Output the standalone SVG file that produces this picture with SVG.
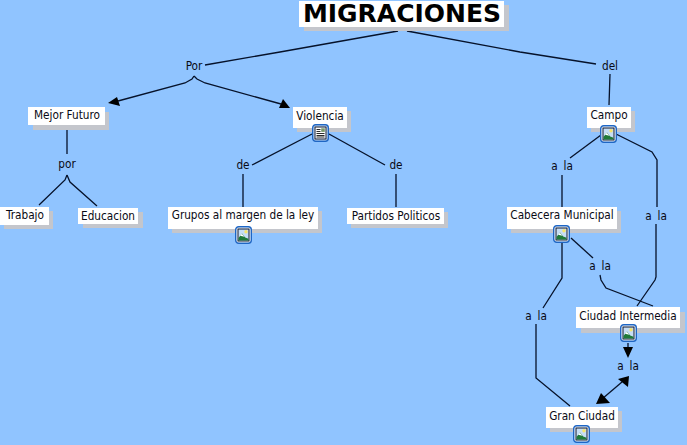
<svg xmlns="http://www.w3.org/2000/svg" width="687" height="445" viewBox="0 0 687 445">
<style>
text{font-family:"DejaVu Sans",Verdana,sans-serif;font-stretch:condensed;font-size:11.7px;fill:#0a0a14;text-anchor:middle}
.t{font-size:25px;font-weight:bold;font-stretch:normal;fill:#000}
.w{word-spacing:2.5px}
.s{fill:#c4c6cc}.b{fill:#fff}
.c{fill:none;stroke:#06122a;stroke-width:1.3}
.a{fill:#000;stroke:none}
</style>
<defs>
<symbol id="pic" viewBox="0 0 17 18" width="17" height="18">
<rect x="0.7" y="0.7" width="15.6" height="16.6" rx="3" fill="#f4f8fd" stroke="#1f66c4" stroke-width="1.4"/>
<rect x="3" y="3" width="11" height="12" fill="#c6def5" stroke="#101830" stroke-width="1"/>
<circle cx="11" cy="5.8" r="1.7" fill="#f7e56a"/>
<path d="M3.5 14.5V12L7 7.6l3.2 4 3.3 1.2v1.7z" fill="#1f7a38"/>
<path d="M6.8 7.8 9.5 10.8 5 9.8z" fill="#fff"/>
</symbol>
<symbol id="doc" viewBox="0 0 17 18" width="17" height="18">
<rect x="0.7" y="0.7" width="15.6" height="16.6" rx="3" fill="#cfe0f5" stroke="#1f66c4" stroke-width="1.4"/>
<rect x="3" y="3" width="11" height="12" fill="#fff" stroke="#101830" stroke-width="1"/>
<path d="M4.5 5.5H8.5M4.5 7.5H8.5M4.5 9.5H12.5M4.5 11.5H12.5M4.5 13H12.5" stroke="#111" stroke-width="0.9"/>
<rect x="9.2" y="4.3" width="3.6" height="3.6" fill="#7a9a6a"/>
</symbol>
</defs>
<rect width="687" height="445" fill="#90c4ff"/>
<g id="connectors">
<path class="c" d="M398 31 280 52 205 65"/>
<path class="c" d="M407 31 520 52 596 64"/>
<path class="c" d="M194 76 192 79 185 83 118 101"/>
<path class="a" d="M108 103 117 97 120 106z"/>
<path class="c" d="M194 76 197 79 205 83 281 104"/>
<path class="a" d="M290 108 279 108 283 99z"/>
<path class="c" d="M610 74 609 105"/>
<path class="c" d="M67 130V154"/>
<path class="c" d="M67 175 65 180 39 205"/>
<path class="c" d="M67 175 70 182 97 206"/>
<path class="c" d="M312 134 252 165"/>
<path class="c" d="M329 134 385 165"/>
<path class="c" d="M243 174V207"/>
<path class="c" d="M396 174V207"/>
<path class="c" d="M601 135 570 158"/>
<path class="c" d="M562 175V207"/>
<path class="c" d="M616 134 652 152 657 160V207"/>
<path class="c" d="M656 224V277L655 280 637 306"/>
<path class="c" d="M571 238 593 258"/>
<path class="c" d="M600 275 601 280 606 288 653 306"/>
<path class="c" d="M562 243V278L543 308"/>
<path class="c" d="M536 324V378L570 406"/>
<path class="c" d="M628 343V350"/>
<path class="a" d="M628 358 623 347H633z"/>
<path class="c" d="M602 399 622 382"/>
<path class="a" d="M596 404 601 393 610 403z"/>
<path class="a" d="M629 376 628 387 618 379z"/>
</g>
<g id="n-title"><rect class="s" x="304" y="5" width="205" height="26"/><rect class="b" x="299" y="1" width="205" height="26"/><text class="t" x="402" y="22">MIGRACIONES</text></g>
<g id="l-por1"><text x="194" y="70">Por</text></g>
<g id="l-del"><text x="610" y="70">del</text></g>
<g id="n-mejor"><rect class="s" x="33" y="112" width="76" height="18"/><rect class="b" x="28" y="107" width="77" height="18"/><text x="67" y="119">Mejor Futuro</text></g>
<g id="n-violencia"><rect class="s" x="297" y="111" width="54" height="21"/><rect class="b" x="293" y="107" width="54" height="21"/><text x="320" y="120">Violencia</text><use href="#doc" x="312" y="124"/></g>
<g id="n-campo"><rect class="s" x="591" y="111" width="44" height="21"/><rect class="b" x="587" y="107" width="44" height="21"/><text x="609" y="119">Campo</text><use href="#pic" x="600" y="125"/></g>
<g id="l-por2"><text x="67" y="168">por</text></g>
<g id="l-de1"><text x="243" y="169">de</text></g>
<g id="l-de2"><text x="396" y="169">de</text></g>
<g id="l-ala1"><text class="w" x="562" y="170">a la</text></g>
<g id="l-ala2"><text class="w" x="656" y="220">a la</text></g>
<g id="n-trabajo"><rect class="s" x="4" y="211" width="49" height="18"/><rect class="b" x="0" y="207" width="49" height="18"/><text x="25" y="219">Trabajo</text></g>
<g id="n-educacion"><rect class="s" x="83" y="212" width="60" height="16"/><rect class="b" x="78" y="208" width="60" height="16"/><text x="108" y="220">Educacion</text></g>
<g id="n-grupos"><rect class="s" x="172" y="211" width="150" height="22"/><rect class="b" x="168" y="207" width="150" height="22"/><text x="243" y="219">Grupos al margen de la ley</text><use href="#pic" x="235" y="226"/></g>
<g id="n-partidos"><rect class="s" x="351" y="212" width="97" height="16"/><rect class="b" x="347" y="208" width="97" height="16"/><text x="396" y="220">Partidos Politicos</text></g>
<g id="n-cabecera"><rect class="s" x="511" y="211" width="110" height="22"/><rect class="b" x="507" y="207" width="110" height="22"/><text x="562" y="219">Cabecera Municipal</text><use href="#pic" x="553" y="225"/></g>
<g id="l-ala3"><text class="w" x="600" y="270">a la</text></g>
<g id="l-ala4"><text class="w" x="536" y="320">a la</text></g>
<g id="n-ciudad"><rect class="s" x="581" y="312" width="104" height="21"/><rect class="b" x="576" y="307" width="104" height="21"/><text x="628" y="320">Ciudad Intermedia</text><use href="#pic" x="620" y="324"/></g>
<g id="l-ala5"><text class="w" x="628" y="370">a la</text></g>
<g id="n-gran"><rect class="s" x="550" y="411" width="72" height="21"/><rect class="b" x="546" y="407" width="72" height="21"/><text x="582" y="420">Gran Ciudad</text><use href="#pic" x="573" y="425"/></g>
</svg>
